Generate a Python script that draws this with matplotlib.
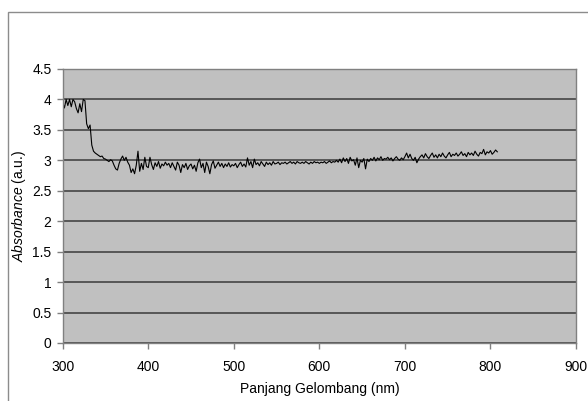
import numpy as np
import matplotlib
matplotlib.use("Agg")
import matplotlib.pyplot as plt
from matplotlib.patches import Rectangle

plt.rcParams['font.family'] = ['Liberation Sans', 'DejaVu Sans']
plt.rcParams['mathtext.fontset'] = 'custom'
plt.rcParams['mathtext.rm'] = 'Liberation Sans'
plt.rcParams['mathtext.it'] = 'Liberation Sans:italic'

# wavelength samples (nm), 2 nm step
wavelength = np.arange(300, 810, 2)

# absorbance, rows of 20 nm
absorbance = [
    3.95, 3.86, 4.00, 3.90, 4.00, 3.88, 4.00, 3.96, 3.85, 3.78,   # 300
    3.93, 3.80, 4.00, 3.98, 3.60, 3.52, 3.58, 3.25, 3.15, 3.12,   # 320
    3.10, 3.08, 3.06, 3.07, 3.03, 3.02, 3.00, 2.98, 3.01, 2.99,   # 340
    2.92, 2.86, 2.84, 2.95, 3.02, 3.07, 3.00, 3.05, 2.97, 2.92,   # 360
    2.80, 2.86, 2.78, 2.92, 3.15, 2.82, 2.95, 2.85, 3.05, 2.90,   # 380
    2.88, 3.05, 2.93, 2.85, 2.96, 2.90, 2.98, 2.87, 2.94, 2.91,   # 400
    2.97, 2.92, 2.95, 2.88, 2.96, 2.90, 2.84, 2.97, 2.92, 2.80,   # 420
    2.93, 2.88, 2.95, 2.85, 2.91, 2.94, 2.86, 2.92, 2.82, 2.96,   # 440
    3.02, 2.88, 2.95, 2.80, 2.97, 2.90, 2.78, 2.93, 2.99, 2.87,   # 460
    2.92, 2.97, 2.90, 2.95, 2.88, 2.94, 2.90, 2.96, 2.89, 2.93,   # 480
    2.91, 2.95, 2.88, 2.93, 2.97, 2.90, 2.94, 2.89, 3.04, 2.92,   # 500
    2.98, 2.88, 3.02, 2.93, 2.96, 2.91, 2.98, 2.94, 2.90, 2.97,   # 520
    2.93, 2.96, 2.92, 2.98, 2.94, 2.95, 2.97, 2.93, 2.96, 2.95,   # 540
    2.97, 2.94, 2.96, 2.98, 2.95, 2.97, 2.94, 2.98, 2.96, 2.95,   # 560
    2.97, 2.95, 2.98, 2.96, 2.94, 2.97, 2.95, 2.98, 2.96, 2.97,   # 580
    2.95, 2.97, 2.96, 2.98, 2.95, 2.97, 2.99, 2.96, 2.98, 2.97,   # 600
    3.00, 2.97, 3.02, 2.96, 3.04, 2.98, 3.03, 2.95, 3.05, 2.99,   # 620
    3.01, 2.92, 3.04, 2.88, 3.00, 2.97, 3.03, 2.86, 3.02, 2.98,   # 640
    3.03, 3.00, 3.05, 2.99, 3.04, 3.01, 3.06, 3.00, 3.03, 3.02,   # 660
    3.05, 3.01, 3.04, 2.99, 3.03, 3.06, 3.02, 3.00, 3.04, 3.01,   # 680
    3.06, 3.12, 3.04, 3.10, 3.03, 3.00, 3.05, 2.96, 3.02, 3.06,   # 700
    3.09, 3.04, 3.11, 3.06, 3.03, 3.08, 3.12, 3.05, 3.09, 3.04,   # 720
    3.10, 3.06, 3.12, 3.07, 3.04, 3.09, 3.13, 3.06, 3.10, 3.08,   # 740
    3.12, 3.07, 3.10, 3.14, 3.08, 3.11, 3.06, 3.13, 3.09, 3.12,   # 760
    3.08, 3.15, 3.10, 3.07, 3.13, 3.11, 3.18, 3.09, 3.14, 3.12,   # 780
    3.16, 3.10, 3.13, 3.17, 3.14,                                 # 800
]

xticks = [300, 400, 500, 600, 700, 800, 900]
yticks = [0, 0.5, 1, 1.5, 2, 2.5, 3, 3.5, 4, 4.5]
ytick_labels = ['0', '0.5', '1', '1.5', '2', '2.5', '3', '3.5', '4', '4.5']

W, H = 588, 401
fig = plt.figure(figsize=(W / 100, H / 100), dpi=100)

# outer chart border (runs off the right and bottom edges)
fig.patches.append(Rectangle((7.5 / W, -0.1), 1.2, 1 - 12 / H + 0.1,
                             transform=fig.transFigure, fill=False,
                             edgecolor='#8c8c8c', linewidth=1.0))

ax = fig.add_axes([62.7 / W, 1 - 343 / H, (576 - 62.7) / W, (343 - 69) / H])
ax.set_facecolor('#c0c0c0')

ax.plot(wavelength, absorbance, color='black', linewidth=0.8)

ax.set_xlim(300, 900)
ax.set_ylim(0, 4.5)
ax.set_xticks(xticks)
ax.set_yticks(yticks)
ax.set_yticklabels(ytick_labels)
ax.grid(axis='y', color='#3a3a3a', linewidth=1.1)
ax.set_axisbelow(True)

for s in ax.spines.values():
    s.set_color('#808080')
    s.set_linewidth(1.0)

ax.tick_params(axis='both', direction='out', length=4, width=1, color='#808080',
               labelsize=10, labelcolor='black')
ax.tick_params(axis='x', pad=8)
ax.tick_params(axis='y', pad=4)

ax.set_xlabel('Panjang Gelombang (nm)', fontsize=10)
ax.set_ylabel(r'$\mathit{Absorbance}$ (a.u.)', fontsize=10)
ax.xaxis.set_label_coords(0.5, -39 / (343 - 69), transform=ax.transAxes)
ax.yaxis.set_label_coords(-35 / (576 - 62.7), 0.5, transform=ax.transAxes)

fig.savefig('out.png', dpi=100)
